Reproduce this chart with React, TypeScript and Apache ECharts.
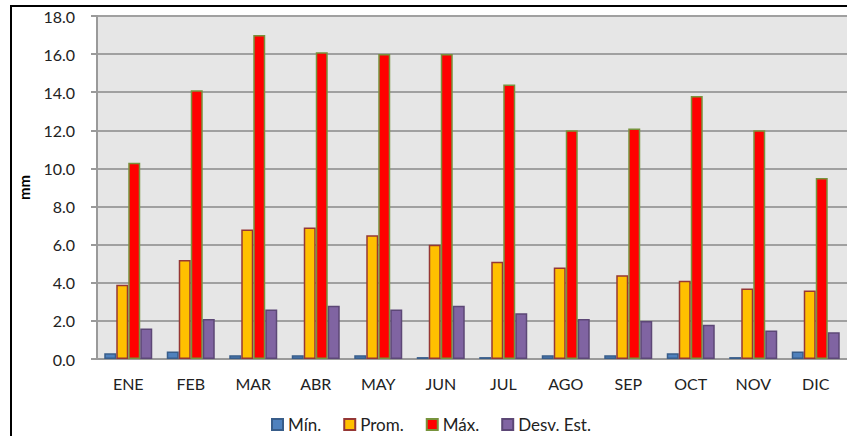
import React, { useEffect, useRef } from "react";
import * as echarts from "echarts";

const categories = ["ENE", "FEB", "MAR", "ABR", "MAY", "JUN", "JUL", "AGO", "SEP", "OCT", "NOV", "DIC"];
const minValues = [0.3, 0.4, 0.2, 0.2, 0.2, 0.1, 0.1, 0.2, 0.2, 0.3, 0.1, 0.4];
const promValues = [3.9, 5.2, 6.8, 6.9, 6.5, 6.0, 5.1, 4.8, 4.4, 4.1, 3.7, 3.6];
const maxValues = [10.3, 14.1, 17.0, 16.1, 16.0, 16.0, 14.4, 12.0, 12.1, 13.8, 12.0, 9.5];
const desvValues = [1.6, 2.1, 2.6, 2.8, 2.6, 2.8, 2.4, 2.1, 2.0, 1.8, 1.5, 1.4];
const seriesNames = ["Mín.", "Prom.", "Máx.", "Desv. Est."];

const FONT = "Lato, 'Open Sans', sans-serif";

export default function App() {
  const ref = useRef<HTMLDivElement>(null);
  useEffect(() => {
    document.body.style.margin = "0";
    const chart = echarts.init(ref.current!, null, { renderer: "svg" });
    const mk = (name: string, data: number[], fill: string, border: string) => ({
      name,
      type: "bar",
      data,
      barWidth: 12,
      barGap: "0%",
      itemStyle: { color: fill, borderColor: border, borderWidth: 1.5 },
    });
    chart.setOption({
      animation: false,
      backgroundColor: "#ffffff",
      textStyle: { fontFamily: FONT },
      graphic: [
        {
          type: "rect",
          shape: { x: 11, y: 6, width: 900, height: 500 },
          style: { fill: "none", stroke: "#000", lineWidth: 2 },
          silent: true,
          z: 100,
        },
      ],
      grid: {
        left: 97,
        top: 16,
        right: 0,
        bottom: 77,
        show: true,
        backgroundColor: "#e6e6e6",
        borderWidth: 0,
      },
      legend: {
        data: seriesNames,
        top: 411,
        left: 266,
        icon: "rect",
        itemWidth: 11,
        itemHeight: 11,
        itemGap: 22,
        textStyle: { fontSize: 17, color: "#222", fontFamily: FONT },
      },
      xAxis: {
        type: "category",
        data: categories,
        axisLine: { show: true, lineStyle: { color: "#9a9a9a", width: 2 } },
        axisTick: { show: false },
        axisLabel: { fontSize: 16, color: "#222", margin: 16, fontFamily: FONT },
      },
      yAxis: {
        type: "value",
        min: 0,
        max: 18,
        interval: 2,
        name: "mm",
        nameLocation: "middle",
        nameGap: 66,
        nameRotate: 90,
        nameTextStyle: { fontWeight: "bold", fontSize: 15, color: "#000", fontFamily: FONT },
        axisLine: { show: true, lineStyle: { color: "#9a9a9a", width: 2 } },
        axisTick: { show: true, length: 6, inside: false, lineStyle: { color: "#9a9a9a", width: 2 } },
        splitLine: { show: true, lineStyle: { color: "#a0a0a0", width: 2 } },
        axisLabel: {
          fontSize: 16,
          color: "#222",
          margin: 22,
          fontFamily: FONT,
          formatter: (v: number) => v.toFixed(1),
        },
      },
      series: [
        mk(seriesNames[0], minValues, "#4f81bd", "#385d8a"),
        mk(seriesNames[1], promValues, "#ffc000", "#953735"),
        mk(seriesNames[2], maxValues, "#ff0000", "#77933c"),
        mk(seriesNames[3], desvValues, "#8064a2", "#5c4776"),
      ],
    });
    return () => chart.dispose();
  }, []);
  return <div ref={ref} style={{ width: 847, height: 436 }} />;
}
